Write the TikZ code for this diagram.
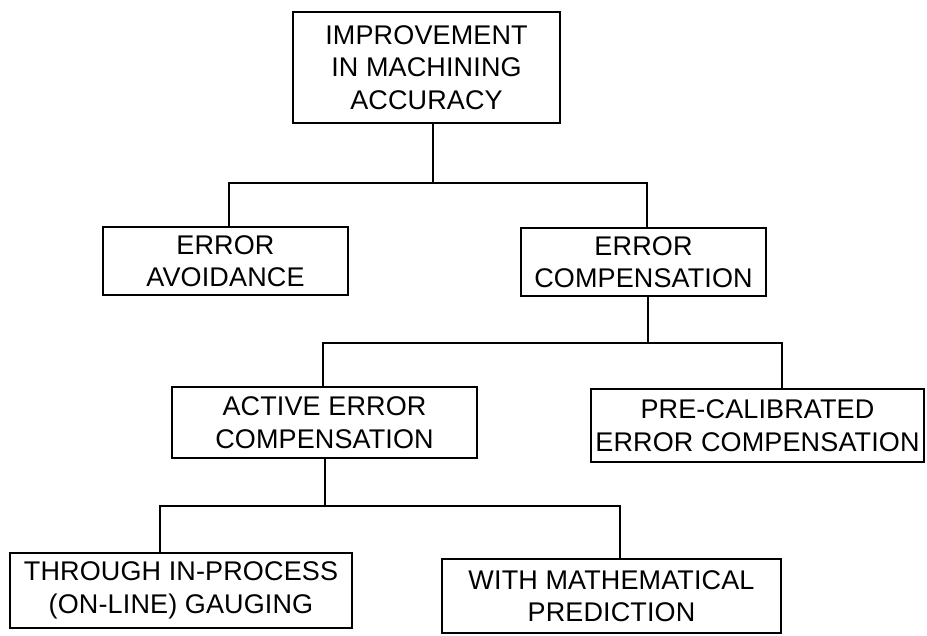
\documentclass[tikz,border=0pt]{standalone}
\usepackage{fontspec}
\setmainfont{Liberation Sans}[LetterSpace=0.5]
\tikzset{
  box/.style={draw, line width=1.3pt, align=center, inner sep=0pt,
    font=\fontsize{27}{32.5}\selectfont},
  link/.style={line width=1.3pt}
}

\begin{document}
\begin{tikzpicture}[x=1pt, y=-1pt]
    \useasboundingbox (0,0) rectangle (927,635);

    % Draw the boxes
    \node[box, minimum width=267pt, minimum height=111pt] (improve) at (426.5,67.5)
        {IMPROVEMENT\\IN MACHINING\\ACCURACY};
    \node[box, minimum width=245pt, minimum height=68pt] (avoid) at (225.5,261)
        {ERROR\\AVOIDANCE};
    \node[box, minimum width=245pt, minimum height=68pt] (comp) at (643.5,262)
        {ERROR\\COMPENSATION};
    \node[box, minimum width=305pt, minimum height=71pt] (active) at (324.5,422.5)
        {ACTIVE ERROR\\COMPENSATION};
    \node[box, minimum width=333pt, minimum height=73pt] (precal) at (757.5,425.5)
        {PRE-CALIBRATED\\ERROR COMPENSATION};
    \node[box, minimum width=342pt, minimum height=75pt] (gauging) at (181,590.5)
        {THROUGH IN-PROCESS\\(ON-LINE) GAUGING};
    \node[box, minimum width=339pt, minimum height=74pt] (predict) at (611.5,596)
        {WITH MATHEMATICAL\\PREDICTION};

    % Branch points
    \coordinate (b1) at (433,183);
    \coordinate (l1) at (229,183);
    \coordinate (r1) at (647,183);
    \coordinate (b2) at (648,343);
    \coordinate (l2) at (323,343);
    \coordinate (r2) at (782,343);
    \coordinate (b3) at (325,506);
    \coordinate (l3) at (160,506);
    \coordinate (r3) at (620,506);

    % Connect the tree
    \draw[link] (improve.south -| b1) -- (b1);
    \draw[link] (avoid.north -| l1) -- (l1) -- (r1) -- (comp.north -| r1);
    \draw[link] (comp.south -| b2) -- (b2);
    \draw[link] (active.north -| l2) -- (l2) -- (r2) -- (precal.north -| r2);
    \draw[link] (active.south -| b3) -- (b3);
    \draw[link] (gauging.north -| l3) -- (l3) -- (r3) -- (predict.north -| r3);
\end{tikzpicture}
\end{document}
